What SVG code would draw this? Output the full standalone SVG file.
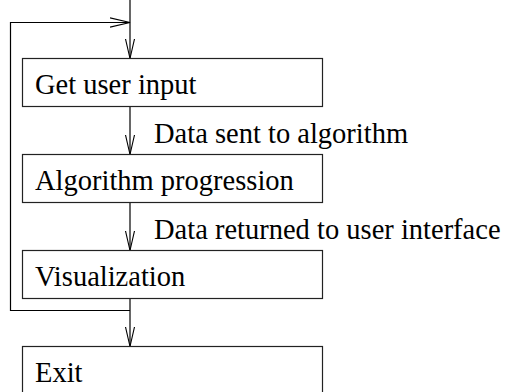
<svg xmlns="http://www.w3.org/2000/svg" width="506" height="392" viewBox="0 0 506 392">
<style>
.box{fill:#fff;stroke:#222;stroke-width:1.2}
.lbl{font-family:"Liberation Serif","Times New Roman",serif;font-size:28.5px;fill:#000}
.ln{fill:none;stroke:#000;stroke-width:1.2}
</style>
<defs>
<marker id="ah" markerUnits="userSpaceOnUse" markerWidth="22" markerHeight="12" refX="20" refY="5" orient="auto" viewBox="0 0 22 10">
<path d="M0,0.4 L20,5 L0,9.6" fill="none" stroke="#000" stroke-width="1.1"/>
</marker>
</defs>
<g id="connectors">
<path class="ln" d="M130,0 V58.5" marker-end="url(#ah)"/>
<path class="ln" d="M130,106.5 V154.5" marker-end="url(#ah)"/>
<path class="ln" d="M130,202.5 V250.5" marker-end="url(#ah)"/>
<path class="ln" d="M130,298.5 V346.5" marker-end="url(#ah)"/>
<path class="ln" d="M130,310.5 H10.5 V22.5 H130" marker-end="url(#ah)"/>
<text class="lbl" x="154" y="142.5">Data sent to algorithm</text>
<text class="lbl" x="154" y="238.5">Data returned to user interface</text>
</g>
<g id="n1"><rect class="box" x="22.5" y="58.5" width="300" height="48"/><text class="lbl" x="35" y="94">Get user input</text></g>
<g id="n2"><rect class="box" x="22.5" y="154.5" width="300" height="48"/><text class="lbl" x="35" y="190">Algorithm progression</text></g>
<g id="n3"><rect class="box" x="22.5" y="250.5" width="300" height="48"/><text class="lbl" x="35" y="286">Visualization</text></g>
<g id="n4"><rect class="box" x="22.5" y="346.5" width="300" height="48"/><text class="lbl" x="35" y="382">Exit</text></g>
</svg>
